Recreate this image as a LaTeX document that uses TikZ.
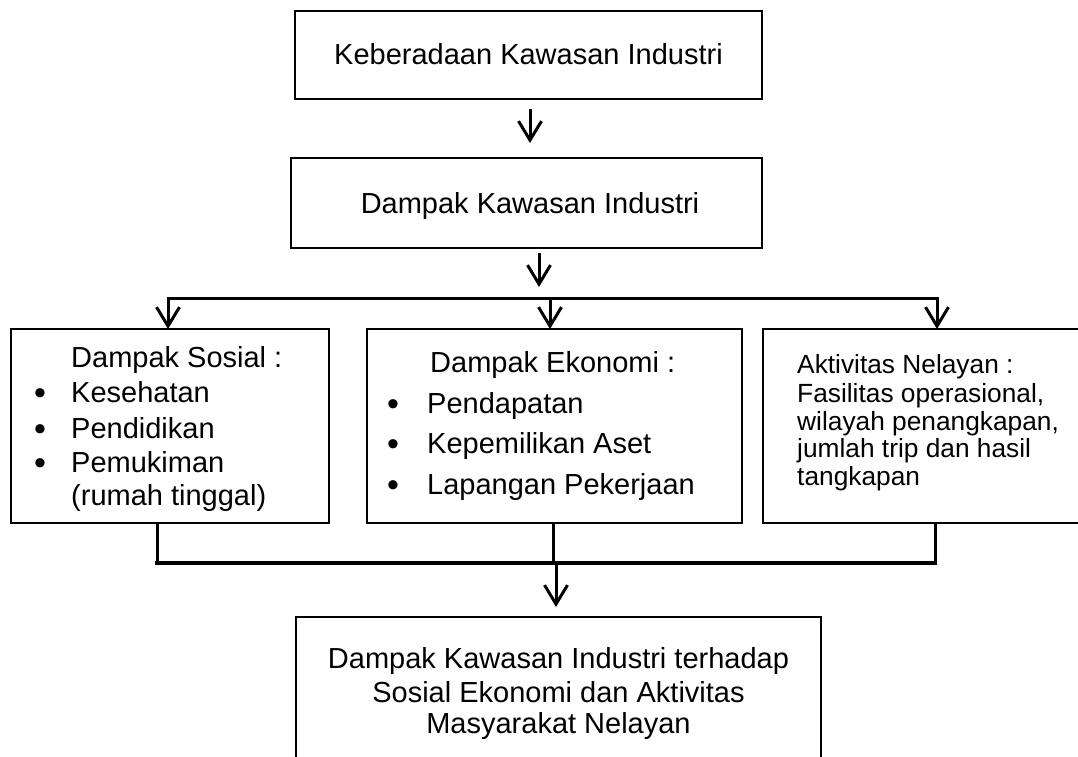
\documentclass[tikz,border=0pt]{standalone}
\usepackage{fontspec}
\setmainfont{Liberation Sans}
\usetikzlibrary{arrows.meta,calc}
\begin{document}
\begin{tikzpicture}[x=1pt,y=-1pt,
  box/.style={draw, line width=2.5pt, inner sep=0pt, outer sep=0pt, anchor=north west, rectangle},
  txt/.style={inner sep=0pt, anchor=base west, font=\fontsize{29}{33}\selectfont},
  ctxt/.style={inner sep=0pt, anchor=base, font=\fontsize{29}{33}\selectfont},
  rtxt/.style={inner sep=0pt, anchor=base west, font=\fontsize{26.3}{29}\selectfont},
  bul/.style={inner sep=0pt, anchor=base, font=\fontsize{34}{34}\selectfont},
  ln/.style={line width=3pt},
  arr/.style={line width=3pt, -{Straight Barb[length=19pt,width=23pt]}},
]
\clip (0,0) rectangle (1078,757);
\fill[white] (0,0) rectangle (1078,757);

% boxes
\node[box, minimum width=467pt, minimum height=88pt] (b1) at (295,11) {};
\node[box, minimum width=471pt, minimum height=90pt] (b2) at (291,158) {};
\node[box, minimum width=318pt, minimum height=194pt] (b3) at (11,329) {};
\node[box, minimum width=375pt, minimum height=194pt] (b4) at (367,329) {};
\node[box, minimum width=330pt, minimum height=194pt] (b5) at (763,329) {};
\node[box, minimum width=525pt, minimum height=200pt] (b6) at (296,617) {};

% texts
\node[ctxt] (t1) at (528.5,65) {Keberadaan Kawasan Industri};
\node[ctxt] (t2) at (530,213) {Dampak Kawasan Industri};

\node[txt] (s0) at (71,367) {Dampak Sosial :};
\node[bul] (sb1) at (40,404) {•};
\node[txt] (s1) at (71,402) {Kesehatan};
\node[bul] (sb2) at (40,440) {•};
\node[txt] (s2) at (71,438) {Pendidikan};
\node[bul] (sb3) at (40,474) {•};
\node[txt] (s3) at (71,472) {Pemukiman};
\node[txt] (s4) at (71,505) {(rumah tinggal)};

\node[txt] (e0) at (430,372) {Dampak Ekonomi :};
\node[bul] (eb1) at (393,415) {•};
\node[txt] (e1) at (427,413) {Pendapatan};
\node[bul] (eb2) at (393,455) {•};
\node[txt] (e2) at (427,453) {Kepemilikan Aset};
\node[bul] (eb3) at (393,496) {•};
\node[txt] (e3) at (427,494) {Lapangan Pekerjaan};

\node[rtxt] (r0) at (797,373) {Aktivitas Nelayan :};
\node[rtxt] (r1) at (797,402) {Fasilitas operasional,};
\node[rtxt] (r2) at (797,430) {wilayah penangkapan,};
\node[rtxt] (r3) at (797,457) {jumlah trip dan hasil};
\node[rtxt] (r4) at (797,485) {tangkapan};

\node[ctxt] (m1) at (558.5,668) {Dampak Kawasan Industri terhadap};
\node[ctxt] (m2) at (558.5,702) {Sosial Ekonomi dan Aktivitas};
\node[ctxt] (m3) at (558.5,733) {Masyarakat Nelayan};

% connectors
\coordinate (a1x) at (530,0);
\draw[arr, shorten <=10pt, shorten >=15pt] (b1.south -| a1x) -- (b2.north -| a1x);

\coordinate (hub) at (539,298);
\draw[arr, shorten <=5pt, shorten >=11pt] (b2.south -| hub) -- (hub);

\coordinate (hL) at (168,298);
\coordinate (hM) at (550,298);
\coordinate (hR) at (937,298);
\draw[ln, line cap=rect] (hL) -- (hR);
\draw[arr] (hL) -- (hL |- b3.north);
\draw[arr] (hM) -- (hM |- b4.north);
\draw[arr] (hR) -- (hR |- b5.north);

\coordinate (gL) at (157,563);
\coordinate (gM) at (553,563);
\coordinate (gR) at (935,563);
\coordinate (gA) at (556,563);
\draw[ln] (b3.south -| gL) -- (gL);
\draw[ln] (b4.south -| gM) -- (gM);
\draw[ln] (b5.south -| gR) -- (gR);
\draw[line width=4.5pt, line cap=rect] (gL) -- (gR);
\draw[arr, shorten >=10pt] (gA) -- (gA |- b6.north);
\end{tikzpicture}
\end{document}
